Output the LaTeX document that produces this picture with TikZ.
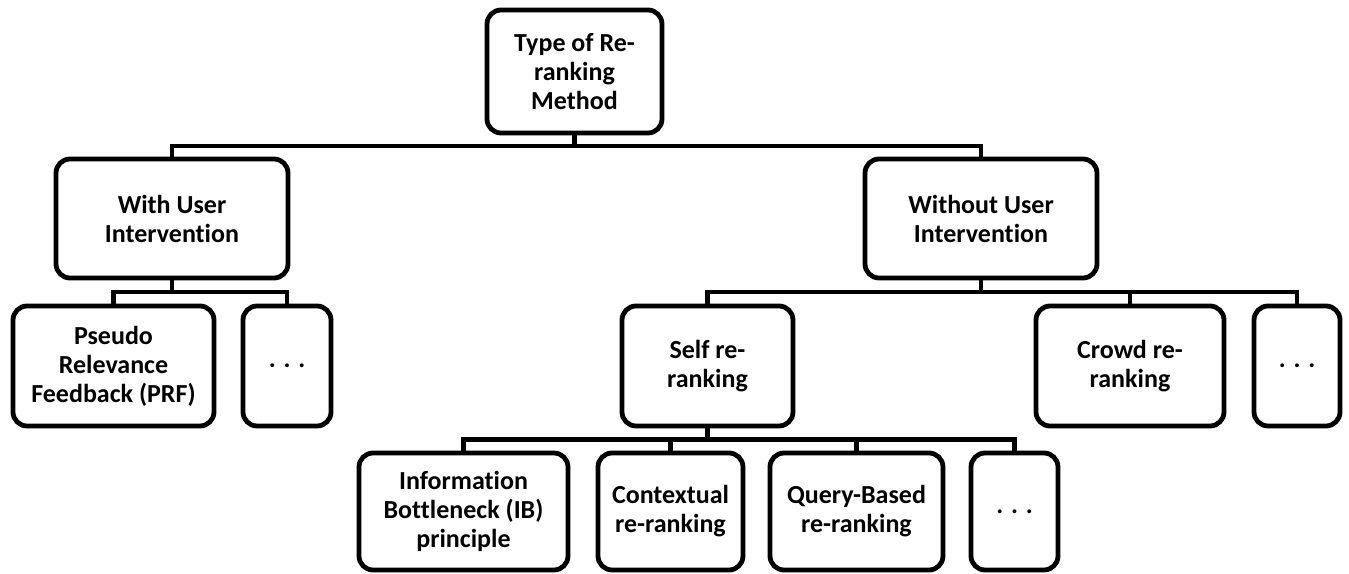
\documentclass[tikz,border=0pt]{standalone}
\usepackage{fontspec}
\setmainfont{Carlito}[Ligatures=NoCommon]
\usetikzlibrary{calc}
\begin{document}
\begin{tikzpicture}[x=0.5pt,y=-0.5pt,
  box/.style={draw=black,line width=2.4pt,rounded corners=7pt,fill=white,
    align=center,inner sep=0pt,font=\fontsize{13pt}{14.5pt}\selectfont\bfseries},
  link/.style={draw=black,line width=2.4pt,line join=miter}]
\useasboundingbox (0,0) rectangle (1349,573);

% level 1
\node[box,minimum width=175*0.5pt,minimum height=123*0.5pt] (root) at (574.5,71.5)
  {Type of Re-\\ranking\\Method};

% level 2
\node[box,minimum width=232*0.5pt,minimum height=119*0.5pt] (with) at (172,218.5)
  {With User\\Intervention};
\node[box,minimum width=232*0.5pt,minimum height=119*0.5pt] (without) at (981,218.5)
  {Without User\\Intervention};

% level 3
\node[box,minimum width=201*0.5pt,minimum height=120*0.5pt] (prf) at (113.5,366)
  {Pseudo\\Relevance\\Feedback (PRF)};
\node[box,minimum width=88*0.5pt,minimum height=120*0.5pt] (dotsA) at (287,366)
  {. . .};
\node[box,minimum width=171*0.5pt,minimum height=120*0.5pt] (self) at (707.5,366)
  {Self re-\\ranking};
\node[box,minimum width=188*0.5pt,minimum height=120*0.5pt] (crowd) at (1130,366)
  {Crowd re-\\ranking};
\node[box,minimum width=86*0.5pt,minimum height=120*0.5pt] (dotsB) at (1297,366)
  {. . .};

% level 4
\node[box,minimum width=209*0.5pt,minimum height=117*0.5pt] (ib) at (463.5,511.5)
  {Information\\Bottleneck (IB)\\principle};
\node[box,minimum width=145*0.5pt,minimum height=117*0.5pt] (ctx) at (670.5,511.5)
  {Contextual\\re-ranking};
\node[box,minimum width=173*0.5pt,minimum height=117*0.5pt] (query) at (856.5,511.5)
  {Query-Based\\re-ranking};
\node[box,minimum width=87*0.5pt,minimum height=117*0.5pt] (dotsC) at (1014.5,511.5)
  {. . .};

% elbow connectors through a bus halfway between parent and child
\foreach \p/\c in {root/with,root/without,with/prf,with/dotsA,
                   without/self,without/crowd,without/dotsB,
                   self/ib,self/ctx,self/query,self/dotsC}{
  \draw[link] (\p.south) |- ($(\p.south)!0.5!(\c.north)$) -| (\c.north);
}
\end{tikzpicture}
\end{document}
